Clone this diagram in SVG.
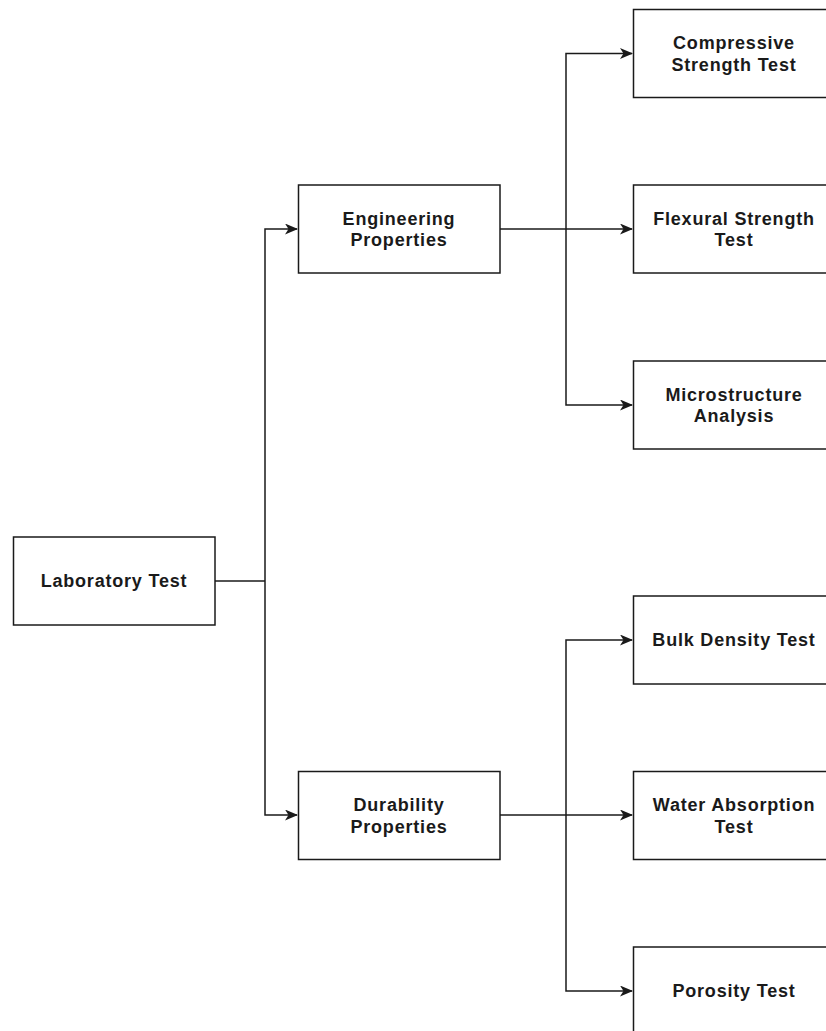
<svg xmlns="http://www.w3.org/2000/svg" width="826" height="1031" viewBox="0 0 826 1031">
<style>
.box{fill:#ffffff;stroke:#1a1a1a;stroke-width:1.5}
.lbl{font-family:"Liberation Sans",Arial,sans-serif;font-weight:bold;font-size:18px;letter-spacing:0.8px;fill:#1a1a1a;text-anchor:middle}
.con{fill:none;stroke:#1a1a1a;stroke-width:1.5}
</style>
<defs>
<marker id="arr" viewBox="0 0 13 11" refX="12" refY="5.5" markerWidth="13" markerHeight="11" markerUnits="userSpaceOnUse" orient="auto">
<path d="M0,0 L13,5.5 L0,11 L3.5,5.5 Z" fill="#1a1a1a"/>
</marker>
</defs>
<rect width="826" height="1031" fill="#ffffff"/>
<g id="connectors">
<path class="con" d="M215,581 H265"/>
<path class="con" d="M265,581 V229 H297" marker-end="url(#arr)"/>
<path class="con" d="M265,581 V815 H297" marker-end="url(#arr)"/>
<path class="con" d="M500,229 H632" marker-end="url(#arr)"/>
<path class="con" d="M566,229 V53.5 H632" marker-end="url(#arr)"/>
<path class="con" d="M566,229 V405 H632" marker-end="url(#arr)"/>
<path class="con" d="M500,815 H632" marker-end="url(#arr)"/>
<path class="con" d="M566,815 V640 H632" marker-end="url(#arr)"/>
<path class="con" d="M566,815 V991 H632" marker-end="url(#arr)"/>
</g>
<g id="lab">
<rect class="box" x="13.5" y="537" width="201.5" height="88"/>
<text class="lbl" x="114" y="587">Laboratory Test</text>
</g>
<g id="eng">
<rect class="box" x="298.5" y="185" width="201.5" height="88"/>
<text class="lbl" x="399" y="224.5">Engineering</text>
<text class="lbl" x="399" y="246">Properties</text>
</g>
<g id="dur">
<rect class="box" x="298.5" y="771.5" width="201.5" height="88"/>
<text class="lbl" x="399" y="811">Durability</text>
<text class="lbl" x="399" y="832.5">Properties</text>
</g>
<g id="comp">
<rect class="box" x="633.5" y="9.5" width="202" height="88"/>
<text class="lbl" x="734" y="49">Compressive</text>
<text class="lbl" x="734" y="70.5">Strength Test</text>
</g>
<g id="flex">
<rect class="box" x="633.5" y="185" width="202" height="88"/>
<text class="lbl" x="734" y="224.5">Flexural Strength</text>
<text class="lbl" x="734" y="246">Test</text>
</g>
<g id="micro">
<rect class="box" x="633.5" y="361" width="202" height="88"/>
<text class="lbl" x="734" y="400.5">Microstructure</text>
<text class="lbl" x="734" y="422">Analysis</text>
</g>
<g id="bulk">
<rect class="box" x="633.5" y="596" width="202" height="88"/>
<text class="lbl" x="734" y="646">Bulk Density Test</text>
</g>
<g id="water">
<rect class="box" x="633.5" y="771.5" width="202" height="88"/>
<text class="lbl" x="734" y="811">Water Absorption</text>
<text class="lbl" x="734" y="832.5">Test</text>
</g>
<g id="poro">
<rect class="box" x="633.5" y="947" width="202" height="88"/>
<text class="lbl" x="734" y="997">Porosity Test</text>
</g>
</svg>
